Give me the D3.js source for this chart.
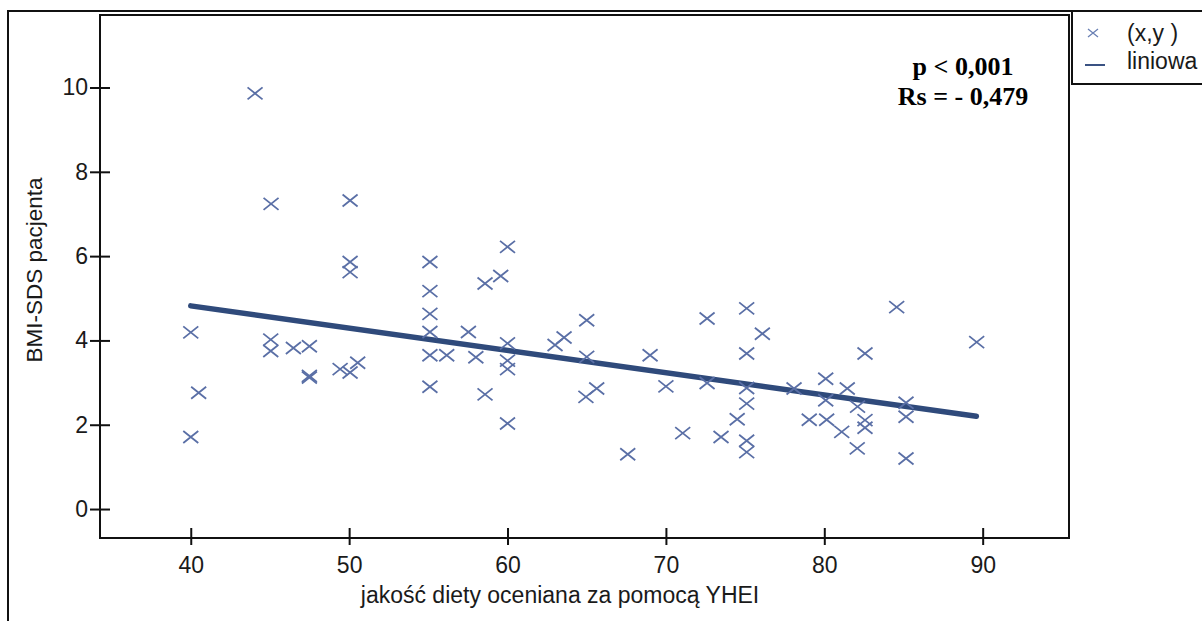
<!DOCTYPE html>
<meta charset="utf-8">
<script src="https://cdn.jsdelivr.net/npm/d3@7"></script>
<style>
  body { margin: 0; background: #fff; }
  text { font-family: "Liberation Sans", Arial, sans-serif; fill: #1a1a1a; }
</style>
<div id="chart"></div>
<script>
// YHEI score (x) and patient BMI-SDS (y)
var yhei = [40.0, 40.5, 40.0, 44.06, 45.07, 45.05, 45.05, 46.48, 47.49, 47.49, 47.49,
  49.43, 50.06, 50.54, 50.06, 50.06, 50.06,
  55.1, 55.1, 55.1, 55.1, 55.1, 56.16, 55.1, 57.53, 58.0, 58.58, 58.58, 59.57,
  60.0, 60.0, 60.0, 60.0, 60.0, 63.0, 63.57, 65.0, 65.0, 64.95, 65.63, 67.59,
  69.0, 70.0, 71.06, 72.6, 72.6, 73.48, 75.1, 75.1, 75.1, 75.1, 74.5, 75.1, 75.1,
  76.09, 78.09, 80.09, 80.09, 79.05, 80.15, 81.1, 81.45, 82.1, 82.57, 82.57, 82.57,
  82.08, 84.57, 85.16, 85.16, 85.16, 89.62];
var bmiSds = [4.19, 2.76, 1.71, 9.86, 7.24, 4.02, 3.75, 3.82, 3.86, 3.16, 3.12,
  3.32, 3.24, 3.47, 7.32, 5.86, 5.62,
  5.86, 5.17, 4.63, 4.20, 3.65, 3.65, 2.90, 4.20, 3.60, 2.72, 5.35, 5.53,
  6.22, 3.93, 3.52, 3.32, 2.03, 3.89, 4.07, 4.48, 3.61, 2.66, 2.86, 1.30,
  3.65, 2.91, 1.80, 4.52, 2.99, 1.71, 4.76, 3.69, 2.87, 2.50, 2.13, 1.62, 1.35,
  4.16, 2.86, 3.09, 2.58, 2.12, 2.12, 1.83, 2.86, 2.43, 3.69, 2.11, 1.93,
  1.44, 4.79, 2.52, 2.19, 1.20, 3.96];

// fitted linear trend ("liniowa"), end points
var trendX = [40.0, 89.6];
var trendY = [4.82, 2.20];

var xTicks = [40, 50, 60, 70, 80, 90];
var yTicks = [0, 2, 4, 6, 8, 10];
var legendLabels = ["(x,y )", "liniowa"];
var statLines = ["p < 0,001", "Rs = - 0,479"];

var W = 1202, H = 621;
var box = {left: 100, top: 15, right: 1069, bottom: 538};

var svg = d3.select("#chart").append("svg")
  .attr("width", W).attr("height", H);

var x = d3.scaleLinear().domain([34.27, 95.45]).range([box.left, box.right]);
var y = d3.scaleLinear().domain([-0.687, 11.72]).range([box.bottom, box.top]);

// outer frame (runs off the picture at right and bottom)
svg.append("rect")
  .attr("x", 8).attr("y", 11).attr("width", W + 20).attr("height", H + 20)
  .attr("fill", "none").attr("stroke", "#111").attr("stroke-width", 2);

// plot frame
svg.append("rect")
  .attr("x", box.left).attr("y", box.top)
  .attr("width", box.right - box.left).attr("height", box.bottom - box.top)
  .attr("fill", "none").attr("stroke", "#111").attr("stroke-width", 2);

// x axis
var gx = svg.append("g")
  .attr("transform", "translate(0," + box.bottom + ")")
  .call(d3.axisBottom(x).tickValues(xTicks).tickSize(7).tickSizeOuter(0).tickPadding(12));
gx.select(".domain").remove();
gx.selectAll(".tick line").attr("y1", -10).attr("y2", 7).attr("stroke", "#111").attr("stroke-width", 2);
gx.selectAll(".tick text").style("font-size", "23px").attr("fill", "#1a1a1a")
  .attr("font-family", "Liberation Sans, Arial, sans-serif");

// y axis
var gy = svg.append("g")
  .attr("transform", "translate(" + box.left + ",0)")
  .call(d3.axisLeft(y).tickValues(yTicks).tickSize(10).tickSizeOuter(0).tickPadding(2));
gy.select(".domain").remove();
gy.selectAll(".tick line").attr("x1", 10).attr("x2", -10).attr("stroke", "#111").attr("stroke-width", 2);
gy.selectAll(".tick text").style("font-size", "23px").attr("fill", "#1a1a1a")
  .attr("font-family", "Liberation Sans, Arial, sans-serif");

// axis titles
svg.append("text")
  .attr("x", (348 + 772) / 2).attr("y", 603)
  .attr("text-anchor", "middle").style("font-size", "23px")
  .text("jakość diety oceniana za pomocą YHEI");

svg.append("text")
  .attr("transform", "translate(42,270) rotate(-90)")
  .attr("text-anchor", "middle").style("font-size", "22.5px")
  .text("BMI-SDS pacjenta");

// trend line
svg.append("path")
  .datum(d3.zip(trendX, trendY))
  .attr("fill", "none").attr("stroke", "#2f4a7b").attr("stroke-width", 5.5)
  .attr("stroke-linecap", "round")
  .attr("d", d3.line().x(function(d) { return x(d[0]); }).y(function(d) { return y(d[1]); }));

// points as crosses
var hw = 7.5, hh = 6;
svg.append("g")
  .selectAll("path")
  .data(d3.zip(yhei, bmiSds))
  .enter()
  .append("path")
    .attr("transform", function(d) { return "translate(" + x(d[0]) + "," + y(d[1]) + ")"; })
    .attr("d", "M" + (-hw) + "," + (-hh) + "L" + hw + "," + hh + "M" + (-hw) + "," + hh + "L" + hw + "," + (-hh))
    .attr("fill", "none").attr("stroke", "#5a6fa6").attr("stroke-width", 1.8);

// statistics note
svg.selectAll(".stat")
  .data(statLines)
  .enter()
  .append("text")
    .attr("class", "stat")
    .attr("x", 963)
    .attr("y", function(d, i) { return 75 + i * 30; })
    .attr("text-anchor", "middle")
    .style("font-family", "'Liberation Serif', 'Times New Roman', serif")
    .style("font-weight", "bold").style("font-size", "26px").style("fill", "#000")
    .text(function(d) { return d; });

// legend
var lg = svg.append("g");
lg.append("rect")
  .attr("x", 1072).attr("y", 11).attr("width", 200).attr("height", 73)
  .attr("fill", "#fff").attr("stroke", "#111").attr("stroke-width", 2);
lg.append("path")
  .attr("transform", "translate(1093,33)")
  .attr("d", "M-5,-4L5,4M-5,4L5,-4")
  .attr("fill", "none").attr("stroke", "#6a80b4").attr("stroke-width", 1.3);
lg.append("line")
  .attr("x1", 1085).attr("x2", 1105).attr("y1", 65).attr("y2", 65)
  .attr("stroke", "#3a5283").attr("stroke-width", 2);
lg.selectAll(".lab")
  .data(legendLabels)
  .enter()
  .append("text")
    .attr("class", "lab")
    .attr("x", 1127)
    .attr("y", function(d, i) { return 41 + i * 28; })
    .style("font-size", "23px")
    .text(function(d) { return d; });
</script>
